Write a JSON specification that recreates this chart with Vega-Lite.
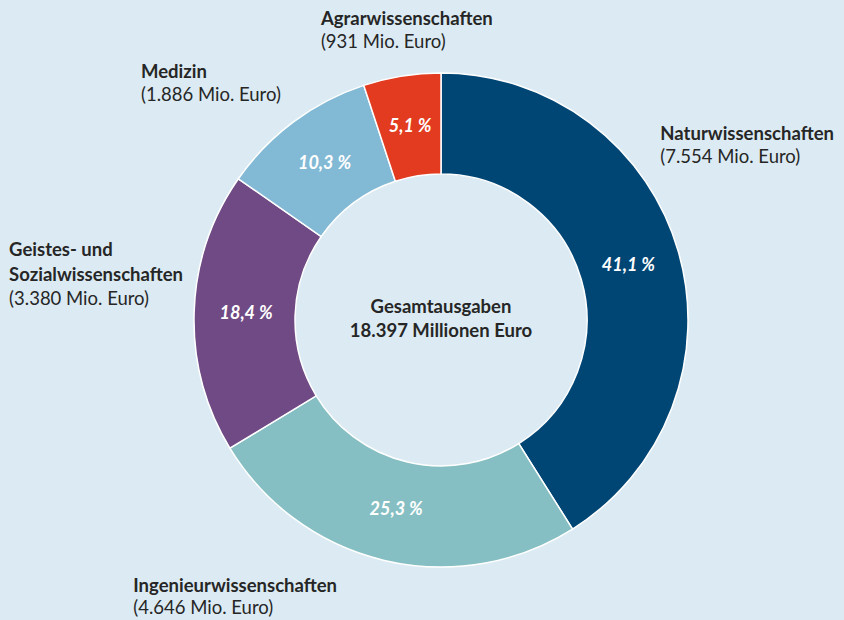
{
  "$schema": "https://vega.github.io/schema/vega-lite/v6.json",
  "width": 806,
  "height": 600,
  "autosize": {"type": "none"},
  "padding": {"left": 38, "top": 20, "right": 0, "bottom": 0},
  "background": "#dcebf3",
  "config": {"view": {"stroke": null}, "text": {"font": "Lato"}},
  "data": {
    "values": [
      {"cat": "Naturwissenschaften", "value": 7554, "pct": "41,1 %", "name": "Naturwissenschaften", "amount": "(7.554 Mio. Euro)"},
      {"cat": "Ingenieurwissenschaften", "value": 4646, "pct": "25,3 %", "name": "Ingenieurwissenschaften", "amount": "(4.646 Mio. Euro)"},
      {"cat": "Geistes- und Sozialwissenschaften", "value": 3380, "pct": "18,4 %", "name": "Geistes- und\nSozialwissenschaften", "amount": "(3.380 Mio. Euro)"},
      {"cat": "Medizin", "value": 1886, "pct": "10,3 %", "name": "Medizin", "amount": "(1.886 Mio. Euro)"},
      {"cat": "Agrarwissenschaften", "value": 931, "pct": "5,1 %", "name": "Agrarwissenschaften", "amount": "(931 Mio. Euro)"}
    ]
  },
  "layer": [
    {
      "mark": {"type": "arc", "innerRadius": 146, "outerRadius": 247, "stroke": "white", "strokeWidth": 1.5},
      "encoding": {
        "theta": {"field": "value", "type": "quantitative", "stack": true},
        "order": {"field": "value", "type": "quantitative", "sort": "descending"},
        "color": {
          "field": "cat",
          "type": "nominal",
          "scale": {
            "domain": ["Naturwissenschaften", "Ingenieurwissenschaften", "Geistes- und Sozialwissenschaften", "Medizin", "Agrarwissenschaften"],
            "range": ["#004675", "#86bfc3", "#6f4a84", "#82b9d5", "#e23b20"]
          },
          "legend": null
        }
      }
    },
    {
      "mark": {"type": "text", "radius": 195, "fontSize": 18, "fontWeight": "bold", "fontStyle": "italic", "color": "white", "align": "center", "baseline": "middle"},
      "encoding": {
        "theta": {"field": "value", "type": "quantitative", "stack": true},
        "order": {"field": "value", "type": "quantitative", "sort": "descending"},
        "text": {"field": "pct", "type": "nominal"}
      }
    },
    {
      "mark": {
        "type": "text", "radius": 247, "align": "left", "baseline": "alphabetic",
        "fontSize": 18.5, "fontWeight": "bold", "color": "#262626", "lineBreak": "\n", "lineHeight": 25,
        "dx": {"expr": "datum.cat == 'Naturwissenschaften' ? -18 : datum.cat == 'Ingenieurwissenschaften' ? -251 : datum.cat == 'Medizin' ? -152.5 : datum.cat == 'Agrarwissenschaften' ? -81 : -185"},
        "dy": {"expr": "datum.cat == 'Naturwissenschaften' ? -112 : datum.cat == 'Ingenieurwissenschaften' ? 32 : datum.cat == 'Medizin' ? -44 : datum.cat == 'Agrarwissenschaften' ? -51 : -56"}
      },
      "encoding": {
        "theta": {"field": "value", "type": "quantitative", "stack": true},
        "order": {"field": "value", "type": "quantitative", "sort": "descending"},
        "text": {"field": "name", "type": "nominal"}
      }
    },
    {
      "mark": {
        "type": "text", "radius": 247, "align": "left", "baseline": "alphabetic",
        "fontSize": 18.5, "fontWeight": "normal", "color": "#262626",
        "dx": {"expr": "datum.cat == 'Naturwissenschaften' ? -18 : datum.cat == 'Ingenieurwissenschaften' ? -251 : datum.cat == 'Medizin' ? -152.5 : datum.cat == 'Agrarwissenschaften' ? -81 : -185"},
        "dy": {"expr": "datum.cat == 'Naturwissenschaften' ? -88.5 : datum.cat == 'Ingenieurwissenschaften' ? 54 : datum.cat == 'Medizin' ? -21 : datum.cat == 'Agrarwissenschaften' ? -28 : -7"}
      },
      "encoding": {
        "theta": {"field": "value", "type": "quantitative", "stack": true},
        "order": {"field": "value", "type": "quantitative", "sort": "descending"},
        "text": {"field": "amount", "type": "nominal"}
      }
    },
    {
      "data": {"values": [{"t": "Gesamtausgaben\n18.397 Millionen Euro"}]},
      "mark": {"type": "text", "align": "center", "baseline": "alphabetic", "fontSize": 18.5, "fontWeight": "bold", "color": "#262626", "lineBreak": "\n", "lineHeight": 24, "dy": -7},
      "encoding": {"text": {"field": "t", "type": "nominal"}}
    }
  ]
}
